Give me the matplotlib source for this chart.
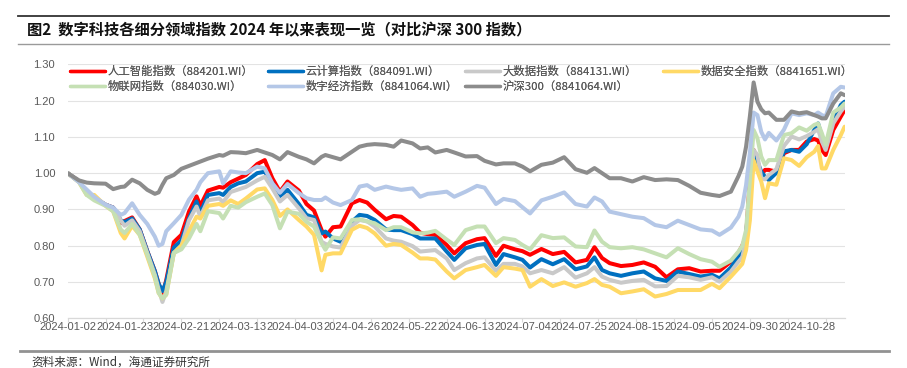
import matplotlib
matplotlib.use("Agg")
import matplotlib.pyplot as plt
import pandas as pd
from matplotlib.lines import Line2D

# ---------------- data ----------------
holidays = ["2024-01-01", "2024-02-09", "2024-02-12", "2024-02-13", "2024-02-14",
            "2024-02-15", "2024-02-16", "2024-04-04", "2024-04-05", "2024-05-01",
            "2024-05-02", "2024-05-03", "2024-06-10", "2024-09-16", "2024-09-17",
            "2024-10-01", "2024-10-02", "2024-10-03", "2024-10-04", "2024-10-07"]

dates = [
    # Jan - Mar
    "2024-01-02", "2024-01-05", "2024-01-09", "2024-01-11", "2024-01-16", "2024-01-18",
    "2024-01-22", "2024-01-23", "2024-01-25", "2024-01-29", "2024-01-31", "2024-02-02",
    "2024-02-05", "2024-02-06", "2024-02-07", "2024-02-19", "2024-02-21", "2024-02-23",
    "2024-02-27", "2024-02-28", "2024-03-01", "2024-03-06", "2024-03-07", "2024-03-11",
    "2024-03-13", "2024-03-15", "2024-03-20",
    # Mar - Jun
    "2024-03-22", "2024-03-26", "2024-03-28", "2024-04-01", "2024-04-08", "2024-04-10",
    "2024-04-12", "2024-04-16", "2024-04-17", "2024-04-19", "2024-04-23", "2024-04-26",
    "2024-04-30", "2024-05-07", "2024-05-09", "2024-05-14", "2024-05-16", "2024-05-20",
    "2024-05-23", "2024-05-27", "2024-05-29", "2024-05-31", "2024-06-05", "2024-06-07",
    # Jun - Aug
    "2024-06-13", "2024-06-18", "2024-06-20", "2024-06-25", "2024-06-27", "2024-07-02",
    "2024-07-04", "2024-07-08", "2024-07-11", "2024-07-16", "2024-07-19", "2024-07-24",
    "2024-07-29", "2024-07-31", "2024-08-02", "2024-08-06", "2024-08-09", "2024-08-14",
    "2024-08-19",
    # Aug - Nov
    "2024-08-22", "2024-08-27", "2024-08-30", "2024-09-04", "2024-09-09", "2024-09-12",
    "2024-09-18", "2024-09-23", "2024-09-25", "2024-09-26", "2024-09-27", "2024-09-30",
    "2024-10-08", "2024-10-09", "2024-10-10", "2024-10-11", "2024-10-14", "2024-10-16",
    "2024-10-18", "2024-10-22", "2024-10-24", "2024-10-28", "2024-10-30", "2024-10-31",
    "2024-11-01", "2024-11-04", "2024-11-06", "2024-11-08", "2024-11-11",
]

ai = [1.000, 0.977, 0.948, 0.932, 0.913, 0.905, 0.862, 0.868, 0.878, 0.845, 0.785, 0.730, 0.695, 0.665, 0.705, 0.810, 0.830, 0.894, 0.936, 0.910, 0.952, 0.962, 0.960, 0.975, 0.985, 0.995, 1.025,
      1.036, 0.986, 0.949, 0.977, 0.952, 0.915, 0.897, 0.843, 0.825, 0.851, 0.853, 0.917, 0.926, 0.919, 0.899, 0.873, 0.882, 0.880, 0.857, 0.836, 0.832, 0.830, 0.802, 0.779,
      0.807, 0.818, 0.821, 0.772, 0.800, 0.790, 0.785, 0.775, 0.791, 0.777, 0.783, 0.754, 0.761, 0.796, 0.766, 0.752, 0.744, 0.747, 0.754,
      0.742, 0.713, 0.735, 0.738, 0.729, 0.731, 0.731, 0.756, 0.781, 0.800, 0.825, 0.980, 1.064, 1.032, 0.995, 1.009, 1.009, 1.004, 1.055, 1.064, 1.064, 1.087, 1.094, 1.090, 1.064, 1.050, 1.119, 1.156, 1.174]

cloud = [1.000, 0.977, 0.948, 0.932, 0.913, 0.905, 0.870, 0.865, 0.875, 0.845, 0.785, 0.730, 0.695, 0.675, 0.700, 0.795, 0.815, 0.875, 0.922, 0.890, 0.940, 0.945, 0.940, 0.962, 0.972, 0.977, 1.000,
         1.004, 0.972, 0.937, 0.954, 0.915, 0.885, 0.878, 0.834, 0.839, 0.820, 0.811, 0.866, 0.885, 0.882, 0.871, 0.845, 0.843, 0.843, 0.832, 0.820, 0.820, 0.820, 0.784, 0.761,
         0.793, 0.802, 0.805, 0.747, 0.777, 0.768, 0.761, 0.740, 0.763, 0.749, 0.763, 0.735, 0.743, 0.768, 0.733, 0.724, 0.717, 0.724, 0.729,
         0.710, 0.703, 0.729, 0.722, 0.715, 0.720, 0.710, 0.740, 0.772, 0.784, 0.834, 0.935, 1.047, 1.032, 1.004, 0.990, 0.981, 1.001, 1.060, 1.064, 1.059, 1.080, 1.119, 1.137, 1.100, 1.073, 1.142, 1.188, 1.197]

bigdata = [1.000, 0.977, 0.946, 0.930, 0.913, 0.903, 0.870, 0.855, 0.870, 0.840, 0.780, 0.720, 0.680, 0.645, 0.675, 0.780, 0.800, 0.870, 0.908, 0.880, 0.925, 0.930, 0.920, 0.948, 0.955, 0.962, 0.980,
           0.990, 0.958, 0.922, 0.940, 0.903, 0.876, 0.871, 0.811, 0.805, 0.798, 0.795, 0.855, 0.871, 0.867, 0.853, 0.820, 0.814, 0.811, 0.799, 0.784, 0.786, 0.788, 0.765, 0.733,
           0.752, 0.765, 0.768, 0.731, 0.750, 0.750, 0.743, 0.724, 0.733, 0.724, 0.741, 0.712, 0.724, 0.741, 0.715, 0.706, 0.698, 0.703, 0.706,
           0.688, 0.689, 0.717, 0.713, 0.706, 0.713, 0.701, 0.729, 0.756, 0.768, 0.816, 0.926, 1.064, 1.050, 0.986, 0.983, 0.995, 1.011, 1.075, 1.101, 1.093, 1.102, 1.114, 1.121, 1.087, 1.064, 1.137, 1.170, 1.183]

datasec = [1.000, 0.975, 0.940, 0.940, 0.910, 0.895, 0.835, 0.820, 0.855, 0.830, 0.770, 0.710, 0.670, 0.655, 0.665, 0.780, 0.800, 0.840, 0.880, 0.875, 0.910, 0.915, 0.910, 0.925, 0.915, 0.930, 0.955,
           0.958, 0.926, 0.882, 0.900, 0.871, 0.853, 0.830, 0.732, 0.775, 0.779, 0.779, 0.844, 0.855, 0.849, 0.834, 0.800, 0.805, 0.802, 0.781, 0.765, 0.765, 0.762, 0.729, 0.710,
           0.733, 0.741, 0.747, 0.717, 0.741, 0.737, 0.733, 0.687, 0.708, 0.689, 0.699, 0.687, 0.697, 0.708, 0.692, 0.687, 0.669, 0.674, 0.680,
           0.660, 0.667, 0.678, 0.678, 0.678, 0.695, 0.683, 0.715, 0.738, 0.750, 0.788, 0.870, 1.035, 1.005, 0.977, 0.931, 0.972, 0.968, 1.041, 1.036, 1.020, 1.044, 1.059, 1.075, 1.013, 1.013, 1.064, 1.105, 1.128]

iot = [1.000, 0.975, 0.940, 0.925, 0.910, 0.895, 0.845, 0.835, 0.860, 0.830, 0.775, 0.715, 0.670, 0.655, 0.665, 0.780, 0.790, 0.820, 0.860, 0.840, 0.895, 0.890, 0.875, 0.910, 0.905, 0.920, 0.935,
       0.944, 0.912, 0.848, 0.894, 0.888, 0.866, 0.853, 0.807, 0.789, 0.823, 0.820, 0.871, 0.873, 0.867, 0.862, 0.843, 0.851, 0.851, 0.837, 0.834, 0.836, 0.841, 0.817, 0.802,
       0.843, 0.853, 0.853, 0.807, 0.821, 0.816, 0.802, 0.790, 0.829, 0.821, 0.823, 0.798, 0.796, 0.842, 0.811, 0.796, 0.793, 0.796, 0.790,
       0.779, 0.768, 0.793, 0.777, 0.763, 0.756, 0.742, 0.759, 0.784, 0.800, 0.843, 0.981, 1.119, 1.096, 1.046, 1.023, 1.036, 1.036, 1.105, 1.110, 1.126, 1.117, 1.133, 1.137, 1.110, 1.078, 1.167, 1.181, 1.192]

digecon = [1.000, 0.975, 0.955, 0.935, 0.913, 0.905, 0.885, 0.890, 0.917, 0.885, 0.860, 0.825, 0.800, 0.805, 0.840, 0.862, 0.885, 0.927, 0.954, 0.975, 1.000, 1.005, 0.972, 1.005, 1.002, 1.000, 1.018,
           1.013, 0.972, 0.946, 0.970, 0.945, 0.931, 0.926, 0.926, 0.933, 0.919, 0.912, 0.926, 0.963, 0.967, 0.954, 0.963, 0.958, 0.954, 0.958, 0.935, 0.943, 0.945, 0.949, 0.935,
           0.949, 0.965, 0.960, 0.915, 0.929, 0.923, 0.906, 0.889, 0.925, 0.935, 0.947, 0.915, 0.908, 0.933, 0.922, 0.894, 0.887, 0.880, 0.876,
           0.857, 0.851, 0.869, 0.857, 0.845, 0.842, 0.830, 0.850, 0.880, 0.908, 0.967, 1.055, 1.167, 1.160, 1.114, 1.093, 1.111, 1.090, 1.120, 1.165, 1.160, 1.165, 1.160, 1.167, 1.160, 1.156, 1.220, 1.238, 1.236]

hs300 = [1.000, 0.980, 0.974, 0.972, 0.971, 0.956, 0.962, 0.963, 0.982, 0.972, 0.954, 0.943, 0.947, 0.968, 0.986, 0.995, 1.012, 1.020, 1.028, 1.032, 1.040, 1.050, 1.048, 1.058, 1.057, 1.055, 1.064,
         1.057, 1.050, 1.038, 1.058, 1.045, 1.038, 1.027, 1.045, 1.050, 1.044, 1.038, 1.059, 1.073, 1.078, 1.080, 1.078, 1.073, 1.090, 1.082, 1.068, 1.071, 1.057, 1.064, 1.057,
         1.046, 1.047, 1.034, 1.024, 1.027, 1.027, 1.018, 1.005, 1.023, 1.029, 1.044, 1.011, 1.001, 1.014, 1.000, 0.986, 0.986, 0.977, 0.989,
         0.981, 0.983, 0.981, 0.965, 0.946, 0.940, 0.937, 0.949, 0.992, 1.018, 1.073, 1.156, 1.250, 1.197, 1.176, 1.165, 1.167, 1.147, 1.147, 1.170, 1.165, 1.168, 1.160, 1.156, 1.151, 1.151, 1.192, 1.220, 1.215]

series_names = ["人工智能指数（884201.WI）", "云计算指数（884091.WI）", "大数据指数（884131.WI）",
                "数据安全指数（8841651.WI）", "物联网指数（884030.WI）", "数字经济指数（8841064.WI）",
                "沪深300（8841064.WI）"]
series_values = [ai, cloud, bigdata, datasec, iot, digecon, hs300]
series_colors = ["#FF0000", "#0070C0", "#C9C9C9", "#FFD966", "#C5E0B4", "#B4C7E7", "#8C8C8C"]

x_labels = ["2024-01-02", "2024-01-23", "2024-02-21", "2024-03-13", "2024-04-03", "2024-04-26",
            "2024-05-22", "2024-06-13", "2024-07-04", "2024-07-25", "2024-08-15", "2024-09-05",
            "2024-09-30", "2024-10-28"]
y_ticks = [0.60, 0.70, 0.80, 0.90, 1.00, 1.10, 1.20, 1.30]

title = "图2  数字科技各细分领域指数 2024 年以来表现一览（对比沪深 300 指数）"
source = "资料来源：Wind，海通证券研究所"

# ---------------- trading calendar (category axis) ----------------
cal = [d.strftime("%Y-%m-%d") for d in pd.bdate_range("2024-01-02", "2024-11-11")
       if d.strftime("%Y-%m-%d") not in holidays]
pos = {d: i for i, d in enumerate(cal)}
xs = [pos[d] for d in dates]

for v in series_values:
    assert len(v) == len(dates)

# ---------------- figure ----------------
W, H = 907, 368
fig = plt.figure(figsize=(W / 100, H / 100), dpi=100)
CJK = ["Noto Sans CJK SC", "DejaVu Sans"]
NUM = ["Liberation Sans", "DejaVu Sans"]
TXT = "#595959"

ax = fig.add_axes([67.7 / W, 1 - 318.3 / H, (844.6 - 67.7) / W, (318.3 - 64.3) / H])
ax.set_xlim(0, len(cal) - 1)
ax.set_ylim(0.6, 1.3)

handles = []
for name, vals, col in zip(series_names, series_values, series_colors):
    h, = ax.plot(xs, vals, color=col, lw=2.9, solid_joinstyle="round", solid_capstyle="round",
                 label=name, zorder=3)
    handles.append(h)

ax.set_yticks(y_ticks)
ax.set_yticklabels([f"{t:.2f}" for t in y_ticks], fontfamily=NUM, fontsize=8, color=TXT)
ax.yaxis.grid(True, color="#E3E3E3", lw=0.8)
ax.set_axisbelow(True)
ax.tick_params(axis="y", length=0, pad=9)

ax.set_xticks([pos[d] for d in x_labels])
ax.set_xticklabels(x_labels, fontfamily=NUM, fontsize=8, color=TXT)
ax.set_xticks(list(range(0, len(cal), 10)), minor=True)
ax.xaxis.remove_overlapping_locs = False
ax.tick_params(axis="x", which="major", length=0, pad=3)
ax.tick_params(axis="x", which="minor", length=3, color="#D9D9D9", width=0.8)

for s in ["top", "right", "left"]:
    ax.spines[s].set_visible(False)
ax.spines["bottom"].set_color("#D9D9D9")
ax.spines["bottom"].set_linewidth(0.9)

# legend: 4 columns placed like the original
cols = [([0, 4], 70), ([1, 5], 268), ([2, 6], 465), ([3], 663)]
for idx, xpx in cols:
    leg = fig.legend([handles[i] for i in idx], [series_names[i] for i in idx],
                     loc="upper left", bbox_to_anchor=(xpx / W, 1 - 66 / H),
                     frameon=False, borderpad=0, borderaxespad=0,
                     handlelength=3.1, handletextpad=0.2, labelspacing=0.3,
                     prop={"family": CJK, "size": 8.2})
    for t in leg.get_texts():
        t.set_color(TXT)
    for l in leg.get_lines():
        l.set_linewidth(2.4)
    fig.add_artist(leg)

# title block and rules
fig.add_artist(Line2D([18 / W, 889 / W], [1 - 16 / H] * 2, color="#333333", lw=1.3))
fig.add_artist(Line2D([18 / W, 889 / W], [1 - 44 / H] * 2, color="#9A9A9A", lw=1.0))
fig.add_artist(Line2D([20 / W, 889 / W], [1 - 350.7 / H] * 2, color="#929292", lw=2.0))
fig.text(27 / W, 1 - 30 / H, title, fontsize=11, fontweight="bold", family=CJK,
         color="#111111", va="center", ha="left")
fig.text(31 / W, 1 - 362 / H, source, fontsize=8.4, family=CJK, color="#333333",
         va="center", ha="left")

fig.savefig("out.png", dpi=100)
